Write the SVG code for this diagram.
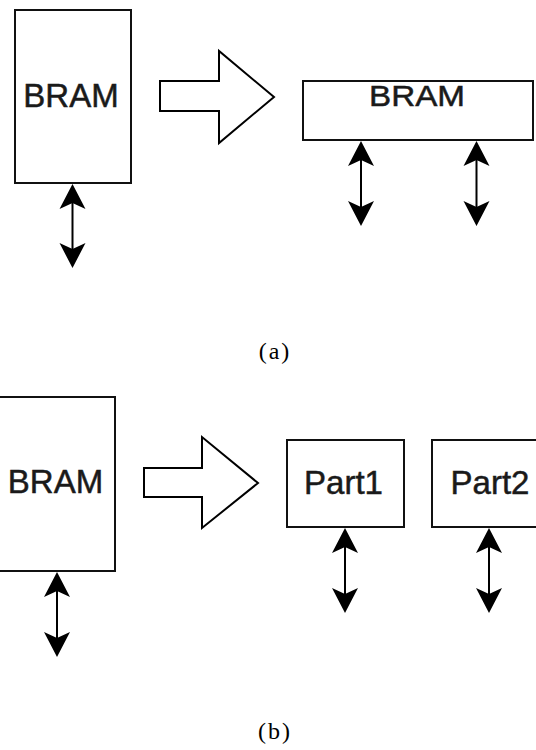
<svg xmlns="http://www.w3.org/2000/svg" width="536" height="750" viewBox="0 0 536 750">
<style>
.box{fill:#fff;stroke:#111;stroke-width:2}
.lbl{font-family:"Liberation Sans",Arial,sans-serif;font-size:33px;fill:#1a1a1a;stroke:#1a1a1a;stroke-width:0.5;text-anchor:middle}
.big{fill:#fff;stroke:#000;stroke-width:2;stroke-linejoin:miter}
.cap{font-family:"Liberation Serif","Times New Roman",serif;font-size:24px;letter-spacing:2px;fill:#000;text-anchor:middle}
.conn{stroke:#000;stroke-width:2;fill:none}
</style>
<g id="a-bram">
<rect class="box" x="15" y="10" width="116" height="173"/>
<text class="lbl" x="71" y="107">BRAM</text>
</g>
<g id="a-arrow">
<polygon class="big" points="160,81 219,81 219,51 274,97 219,143 219,111 160,111"/>
</g>
<g id="a-bram-wide">
<rect class="box" x="303" y="81" width="230" height="59"/>
<text class="lbl" x="417" y="106" style="font-size:30px" textLength="96" lengthAdjust="spacingAndGlyphs">BRAM</text>
</g>
<text class="cap" x="275" y="359">(a)</text>
<g id="b-bram">
<rect class="box" x="-1" y="397" width="116" height="174"/>
<text class="lbl" x="55.5" y="493">BRAM</text>
</g>
<g id="b-arrow">
<polygon class="big" points="144,468 202,468 202,437 258,483 202,528 202,497 144,497"/>
</g>
<g id="part1">
<rect class="box" x="287" y="440" width="117" height="87"/>
<text class="lbl" x="343.5" y="494">Part1</text>
</g>
<g id="part2">
<rect class="box" x="432" y="440" width="110" height="87"/>
<text class="lbl" x="490" y="494">Part2</text>
</g>
<text class="cap" x="275" y="739">(b)</text>
<g id="connectors" fill="#000">
<path class="conn" d="M72.5,190 V262"/>
<path d="M72.5,184 L85.5,209 L72.5,203 L59.5,209 Z"/>
<path d="M72.5,268 L85.5,243 L72.5,249 L59.5,243 Z"/>
<path class="conn" d="M361,147 V220"/>
<path d="M361,141 L374,166 L361,160 L348,166 Z"/>
<path d="M361,226 L374,201 L361,207 L348,201 Z"/>
<path class="conn" d="M476.5,147 V220"/>
<path d="M476.5,141 L489.5,166 L476.5,160 L463.5,166 Z"/>
<path d="M476.5,226 L489.5,201 L476.5,207 L463.5,201 Z"/>
<path class="conn" d="M57,578 V651"/>
<path d="M57,572 L70,597 L57,591 L44,597 Z"/>
<path d="M57,657 L70,632 L57,638 L44,632 Z"/>
<path class="conn" d="M345,534 V607"/>
<path d="M345,528 L358,553 L345,547 L332,553 Z"/>
<path d="M345,613 L358,588 L345,594 L332,588 Z"/>
<path class="conn" d="M489,534 V607"/>
<path d="M489,528 L502,553 L489,547 L476,553 Z"/>
<path d="M489,613 L502,588 L489,594 L476,588 Z"/>
</g>
</svg>
